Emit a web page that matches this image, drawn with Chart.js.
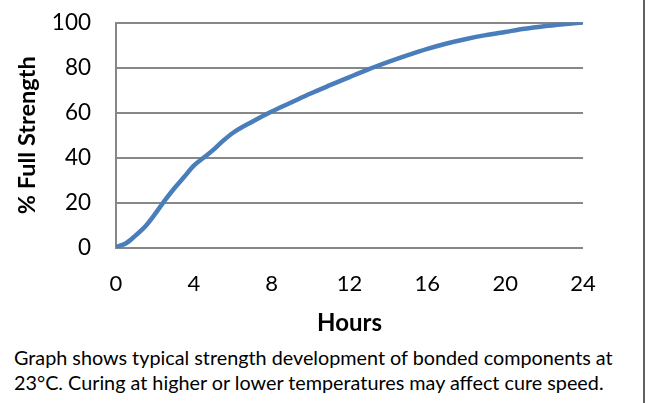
<!DOCTYPE html>
<html>
<head>
<meta charset="utf-8">
<script src="https://cdn.jsdelivr.net/npm/chart.js@4.4.1/dist/chart.umd.min.js"></script>
<style>
  html, body { margin: 0; padding: 0; background: #fff; }
  .wrap { position: relative; width: 652px; height: 403px; overflow: hidden; }
  #chart { position: absolute; left: 0; top: -16px; }
  .caption {
    position: absolute; left: 14px; top: 345px; width: 635px; white-space: nowrap;
    font-family: Lato, sans-serif; font-size: 19.8px; line-height: 25px; color: #000;
  }
  .edge { position: absolute; left: 643px; top: 0; width: 2px; height: 403px; background: #606060; }
</style>
</head>
<body>
<div class="wrap">
  <canvas id="chart" width="652" height="361"></canvas>
  <div class="caption">Graph shows typical strength development of bonded components at<br>23°C. Curing at higher or lower temperatures may affect cure speed.</div>
  <div class="edge"></div>
</div>
<script>
// Values
const hours = [0, 0.5, 1, 1.5, 2, 2.5, 3, 3.5, 4, 4.5, 5, 5.5, 6, 7, 8, 9, 10, 11, 12, 13, 14, 15, 16, 17, 18, 19, 20, 21, 22, 23, 24];
const strength = [0.5, 2, 5.5, 9.5, 15, 21, 26.5, 31.5, 36.5, 40, 43.5, 47.5, 51, 56, 60.5, 64.5, 68.5, 72.2, 75.8, 79.3, 82.5, 85.5, 88.3, 90.7, 92.7, 94.4, 95.8, 97.2, 98.3, 99.2, 100];
const xTicks = [0, 4, 8, 12, 16, 20, 24];
const yTicks = [0, 20, 40, 60, 80, 100];

const gridGray = '#878787';

const points = hours.map((h, i) => ({ x: h, y: strength[i] }));

const ctx = document.getElementById('chart').getContext('2d');
new Chart(ctx, {
    type: 'line',
    data: {
        datasets: [{
            data: points,
            borderColor: '#4A7EBB',
            borderWidth: 4.5,
            pointRadius: 0,
            cubicInterpolationMode: 'monotone',
            fill: false
        }]
    },
    options: {
        responsive: false,
        animation: false,
        layout: { padding: { left: 0, right: 69, top: 6, bottom: 0 } },
        plugins: { legend: { display: false }, tooltip: { enabled: false } },
        scales: {
            x: {
                type: 'linear',
                min: 0,
                max: 24,
                afterBuildTicks: scale => { scale.ticks = xTicks.map(v => ({ value: v })); },
                afterFit: scale => { scale.height = 97; },
                grid: { display: false },
                border: { display: false },
                ticks: {
                    padding: 15,
                    color: '#000',
                    font: { family: 'Lato', size: 22 },
                    maxRotation: 0
                },
                title: {
                    display: true,
                    text: 'Hours',
                    color: '#000',
                    font: { family: 'Lato', size: 24, weight: 'bold' },
                    padding: { top: 0, bottom: 7 }
                }
            },
            y: {
                min: 0,
                max: 100,
                afterBuildTicks: scale => { scale.ticks = yTicks.map(v => ({ value: v })); },
                afterFit: scale => { scale.width = 116; },
                grid: { color: gridGray, lineWidth: 2, drawTicks: false },
                border: { display: true, color: gridGray, width: 2 },
                ticks: {
                    padding: 25,
                    color: '#000',
                    font: { family: 'Lato', size: 22.5 }
                },
                title: {
                    display: true,
                    text: '% Full Strength',
                    color: '#000',
                    font: { family: 'Lato', size: 23.5, weight: 'bold' },
                    padding: { top: 13, bottom: 0 }
                }
            }
        }
    }
});
</script>
</body>
</html>
